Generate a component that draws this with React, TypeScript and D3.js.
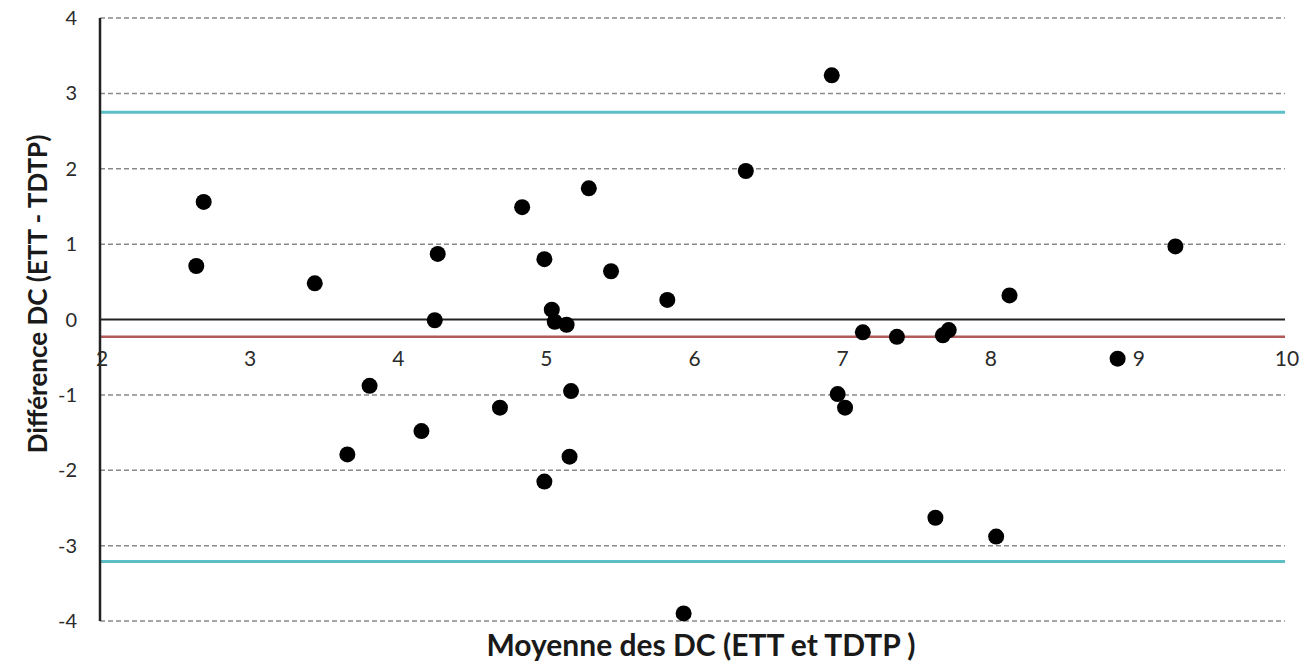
import React from "react";
import * as d3 from "d3";

// Bland-Altman: mean of the two DC measurements vs their difference
const meanDC = [
  2.65, 2.7, 3.45, 3.67, 3.82, 4.17, 4.26, 4.28, 4.7, 4.85, 5.0, 5.0, 5.05, 5.07, 5.15,
  5.18, 5.17, 5.3, 5.45, 5.83, 5.94, 6.36, 6.94, 6.98, 7.03, 7.15, 7.38, 7.64, 7.69,
  7.73, 8.05, 8.14, 8.87, 9.26,
];
const diffDC = [
  0.71, 1.56, 0.48, -1.79, -0.88, -1.48, -0.01, 0.87, -1.17, 1.49, 0.8, -2.15, 0.13,
  -0.03, -0.07, -0.95, -1.82, 1.74, 0.64, 0.26, -3.9, 1.97, 3.24, -0.99, -1.17, -0.17,
  -0.23, -2.63, -0.21, -0.14, -2.88, 0.32, -0.52, 0.97,
];

const xTicks = [2, 3, 4, 5, 6, 7, 8, 9, 10];
const yTicks = [-4, -3, -2, -1, 0, 1, 2, 3, 4];

const meanBias = -0.23;
const upperLimit = 2.75;
const lowerLimit = -3.21;

const xTitle = "Moyenne des DC (ETT et TDTP )";
const yTitle = "Différence DC (ETT - TDTP)";

const width = 1310;
const height = 664;

const App = () => {
  const x = d3.scaleLinear().domain([2, 10]).range([100, 1285]);
  const y = d3.scaleLinear().domain([-4, 4]).range([621, 18]);
  const font = "Lato, 'Open Sans', sans-serif";

  const points = meanDC.map((m, i) => ({ m, d: diffDC[i] }));

  return (
    <svg
      width={width}
      height={height}
      style={{ position: "absolute", left: 0, top: 0, background: "#fff" }}
      fontFamily={font}
    >
      {/* dashed gridlines */}
      {yTicks
        .filter((t) => t !== 0)
        .map((t) => (
          <line
            key={"g" + t}
            x1={x(2)}
            x2={x(10)}
            y1={y(t)}
            y2={y(t)}
            stroke="#8a8a8a"
            strokeWidth={1.5}
            strokeDasharray="5,3"
          />
        ))}

      {/* limits of agreement */}
      {[upperLimit, lowerLimit].map((v) => (
        <line
          key={"l" + v}
          x1={x(2)}
          x2={x(10)}
          y1={y(v)}
          y2={y(v)}
          stroke="#5dbfc6"
          strokeWidth={3}
        />
      ))}
      <line
        x1={x(2)}
        x2={x(10)}
        y1={y(meanBias)}
        y2={y(meanBias)}
        stroke="#b25b5b"
        strokeWidth={2.5}
      />

      {/* axes */}
      <line x1={x(2)} x2={x(10)} y1={y(0)} y2={y(0)} stroke="#222" strokeWidth={2} />
      <line x1={x(2)} x2={x(2)} y1={y(4)} y2={y(-4)} stroke="#222" strokeWidth={2.5} />

      {yTicks.map((t) => (
        <text
          key={"yt" + t}
          x={77}
          y={y(t) + 7}
          textAnchor="end"
          fontSize={20}
          fill="#2a2a2a"
        >
          {t}
        </text>
      ))}
      {xTicks.map((t) => (
        <text
          key={"xt" + t}
          x={x(t) + 2}
          y={366}
          textAnchor="middle"
          fontSize={21}
          fill="#2a2a2a"
        >
          {t}
        </text>
      ))}

      {/* points */}
      {points.map((p, i) => (
        <circle key={"p" + i} cx={x(p.m)} cy={y(p.d)} r={8} fill="#000" />
      ))}

      {/* titles */}
      <text
        x={701}
        y={656}
        textAnchor="middle"
        fontSize={30}
        fontWeight="bold"
        fill="#1a1a1a"
      >
        {xTitle}
      </text>
      <text
        transform={`translate(47,294) rotate(-90)`}
        textAnchor="middle"
        fontSize={26}
        fontWeight="bold"
        fill="#1a1a1a"
      >
        {yTitle}
      </text>
    </svg>
  );
};

export default App;
